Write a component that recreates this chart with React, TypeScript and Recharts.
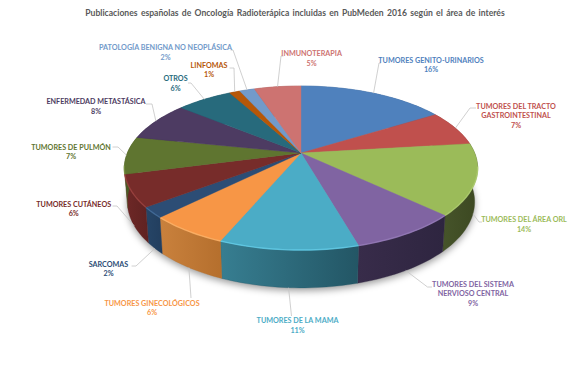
import React from "react"
import { Pie, PieChart } from "recharts"

const categories = [
  "TUMORES GENITO-URINARIOS",
  "TUMORES DEL TRACTO GASTROINTESTINAL",
  "TUMORES DEL ÁREA ORL",
  "TUMORES DEL SISTEMA NERVIOSO CENTRAL",
  "TUMORES DE LA MAMA",
  "TUMORES GINECOLÓGICOS",
  "SARCOMAS",
  "TUMORES CUTÁNEOS",
  "TUMORES DE PULMÓN",
  "ENFERMEDAD METASTÁSICA",
  "OTROS",
  "LINFOMAS",
  "PATOLOGÍA BENIGNA NO NEOPLÁSICA",
  "INMUNOTERAPIA",
]
const shares = [16.1, 7, 14, 8.5, 10.7, 6.2, 2.1, 6.3, 7.35, 7.75, 6.1, 1.15, 1.65, 5.1]

const faceColors = [
  "#4F81BD", "#C0504D", "#9BBB59", "#8064A2", "#4BACC6", "#F79646", "#2C4D75",
  "#772C2A", "#5F7530", "#4D3B62", "#276A7C", "#B65708", "#729ACA", "#CD7371",
]
const wallLeft = [
  "#3a5f8c", "#8e3b39", "#46542a", "#382c4a", "#377e91", "#c9813d", "#264567",
  "#6e2827", "#4a5b25", "#3b2d4b", "#1e5160", "#8a4206", "#557396", "#985654",
]
const wallRight = [
  "#3a5f8c", "#8e3b39", "#3c4821", "#2e2540", "#235665", "#b56f2d", "#223e5e",
  "#5f2221", "#4a5b25", "#3b2d4b", "#1e5160", "#8a4206", "#557396", "#985654",
]
const rimColors = [
  "#6f9bd2", "#d56f6c", "#b3d274", "#9a7fbd", "#66d2ee", "#ffb56b", "#46709f",
  "#a04340", "#7b9644", "#675180", "#3a8ba0", "#d9741a", "#8fb5e0", "#e69290",
]

// text centre x, first line centre y, split lines, leader bend and leader end
const labelLayout = [
  { x: 431, y: 60, lines: ["TUMORES GENITO-URINARIOS"], bend: [379, 63], end: [381, 63] },
  { x: 516, y: 106, lines: ["TUMORES DEL TRACTO", "GASTROINTESTINAL"], bend: [470, 108], end: [476, 108] },
  { x: 524, y: 219.5, lines: ["TUMORES DEL ÁREA ORL"], bend: [479, 222], end: [482, 222] },
  { x: 473, y: 284, lines: ["TUMORES DEL SISTEMA", "NERVIOSO CENTRAL"], bend: [427.5, 287], end: [432, 287] },
  { x: 297.5, y: 320.5, lines: ["TUMORES DE LA MAMA"], bend: [291.5, 316], end: [291.5, 316] },
  { x: 152, y: 303, lines: ["TUMORES GINECOLÓGICOS"], bend: [191, 298], end: [191, 298] },
  { x: 108.5, y: 264, lines: ["SARCOMAS"], bend: [136, 266], end: [131.6, 266] },
  { x: 73.7, y: 204, lines: ["TUMORES CUTÁNEOS"], bend: [117, 206], end: [112.5, 206] },
  { x: 71, y: 147, lines: ["TUMORES DE PULMÓN"], bend: [118, 147], end: [112.5, 147] },
  { x: 96, y: 101.5, lines: ["ENFERMEDAD METASTÁSICA"], bend: [152, 104], end: [146, 104] },
  { x: 175.5, y: 78.5, lines: ["OTROS"], bend: [191, 83], end: [188, 83] },
  { x: 209, y: 65, lines: ["LINFOMAS"], bend: [234, 68], end: [229.5, 68] },
  { x: 165.5, y: 47.5, lines: ["PATOLOGÍA BENIGNA NO NEOPLÁSICA"], bend: [233, 50], end: [230.6, 50] },
  { x: 311.6, y: 53.5, lines: ["INMUNOTERAPIA"], bend: [281, 56], end: [283.5, 56] },
]

const tableData = categories.map((name, i) => ({ name, value: shares[i], fill: faceColors[i] }))
const wholeData = [{ name: "base", value: shares.reduce((a, b) => a + b, 0) }]

const FONT = "Lato, sans-serif"
const RAD = Math.PI / 180
const TILT = 0.4565 // vertical squash of the disc
const PERSP = -0.183 // near edge is drawn bigger than the far edge
const DEPTH = 0.19 // wall height against the radius

// Circle point (math angle in degrees) to its place on the tilted top face
function topPoint(cx: number, cy: number, r: number, deg: number) {
  const X = Math.cos(deg * RAD)
  const Y = -Math.sin(deg * RAD)
  const w = 1 + PERSP * Y
  return { x: cx + (r * X) / w, y: cy + (r * TILT * Y) / w }
}

// Same point on the lower rim
function lowerPoint(cx: number, cy: number, r: number, deg: number) {
  const p = topPoint(cx, cy, r, deg)
  return { x: cx + (p.x - cx) * 0.983, y: cy + (p.y - cy) * 1.05 + r * DEPTH }
}

function arc(fn: typeof topPoint, cx: number, cy: number, r: number, from: number, to: number) {
  const steps = Math.max(2, Math.ceil(Math.abs(to - from) / 1.5))
  const pts = []
  for (let i = 0; i <= steps; i++) pts.push(fn(cx, cy, r, from + ((to - from) * i) / steps))
  return pts
}

const toPath = (pts: { x: number; y: number }[]) =>
  pts.map((p, i) => `${i ? "L" : "M"}${p.x.toFixed(2)} ${p.y.toFixed(2)}`).join(" ")

function FaceShape(props: any) {
  const { cx, cy, outerRadius: r, startAngle, endAngle, name, fill } = props
  const i = categories.indexOf(name)
  const rim = arc(topPoint, cx, cy, r, startAngle, endAngle)
  // only the near side catches the light
  const nearRim = rim.filter((p) => p.y > cy + 12)
  return (
    <g>
      <path d={`M${cx} ${cy} ${toPath(rim).replace("M", "L")} Z`} fill={fill} stroke={fill} strokeWidth={0.4} />
      {nearRim.length > 1 && (
        <path d={toPath(nearRim)} fill="none" stroke={rimColors[i]} strokeWidth={1.4} strokeOpacity={0.75} />
      )}
    </g>
  )
}

function WallShape(props: any) {
  const { cx, cy, outerRadius: r, startAngle, endAngle, name } = props
  const i = categories.indexOf(name)
  const upper = arc(topPoint, cx, cy, r, startAngle, endAngle)
  const lower = arc(lowerPoint, cx, cy, r, endAngle, startAngle)
  const id = `wall-${i}`
  return (
    <g>
      <defs>
        <linearGradient id={id} x1="0" y1="0" x2="1" y2="0">
          <stop offset="0" stopColor={wallLeft[i]} />
          <stop offset="1" stopColor={wallRight[i]} />
        </linearGradient>
      </defs>
      <path d={`${toPath(upper)} ${toPath(lower).replace("M", "L")} Z`} fill={`url(#${id})`} stroke={wallRight[i]} strokeWidth={0.3} />
    </g>
  )
}

function ShadowShape(props: any) {
  const { cx, cy, outerRadius: r } = props
  const ring = arc(lowerPoint, cx, cy + 3, r, 0, 360)
  return (
    <g>
      <defs>
        <filter id="soft" x="-10%" y="-10%" width="120%" height="120%">
          <feGaussianBlur stdDeviation="3.5" />
        </filter>
      </defs>
      <path d={`${toPath(ring)} Z`} fill="#000" fillOpacity={0.38} filter="url(#soft)" />
    </g>
  )
}

function SliceLabel(props: any) {
  const { cx, cy, outerRadius: r, midAngle, index, percent } = props
  const layout = labelLayout[index]
  const top = topPoint(cx, cy, r, midAngle)
  const start = top.y - cy > 10 ? lowerPoint(cx, cy, r, midAngle) : top
  const color = faceColors[index]
  const rows = [...layout.lines, `${Math.round(percent * 100)}%`]
  return (
    <g>
      <polyline
        points={`${start.x},${start.y} ${layout.bend[0]},${layout.bend[1]} ${layout.end[0]},${layout.end[1]}`}
        fill="none"
        stroke="#c4c4c4"
        strokeWidth={0.8}
      />
      {rows.map((row, k) => (
        <text
          key={k}
          x={layout.x}
          y={layout.y + k * 9.8}
          textAnchor="middle"
          dominantBaseline="central"
          fontFamily={FONT}
          fontWeight={700}
          fontSize={7.2}
          fill={color}
        >
          {row}
        </text>
      ))}
    </g>
  )
}

const pieProps = {
  cx: 301,
  cy: 153,
  outerRadius: 173.7,
  startAngle: 90,
  endAngle: -270,
  dataKey: "value",
  stroke: "none",
  isAnimationActive: false,
}

export default function App() {
  return (
    <div style={{ position: "relative", width: 583, height: 378, margin: -8, background: "#fff", overflow: "hidden" }}>
      <div
        style={{
          position: "absolute",
          left: 0,
          width: 590,
          top: 7,
          textAlign: "center",
          fontFamily: FONT,
          fontWeight: 700,
          fontSize: 8.6,
          lineHeight: "12px",
          wordSpacing: 1.2,
          color: "#595959",
          whiteSpace: "nowrap",
        }}
      >
        Publicaciones españolas de Oncología Radioterápica incluidas en PubMeden 2016 según el área de interés
      </div>
      <PieChart width={583} height={378} margin={{ top: 0, right: 0, bottom: 0, left: 0 }}>
        <Pie {...pieProps} data={wholeData} shape={ShadowShape} />
        <Pie {...pieProps} data={tableData} shape={WallShape} />
        <Pie {...pieProps} data={tableData} shape={FaceShape} labelLine={false} label={SliceLabel} />
      </PieChart>
    </div>
  )
}
